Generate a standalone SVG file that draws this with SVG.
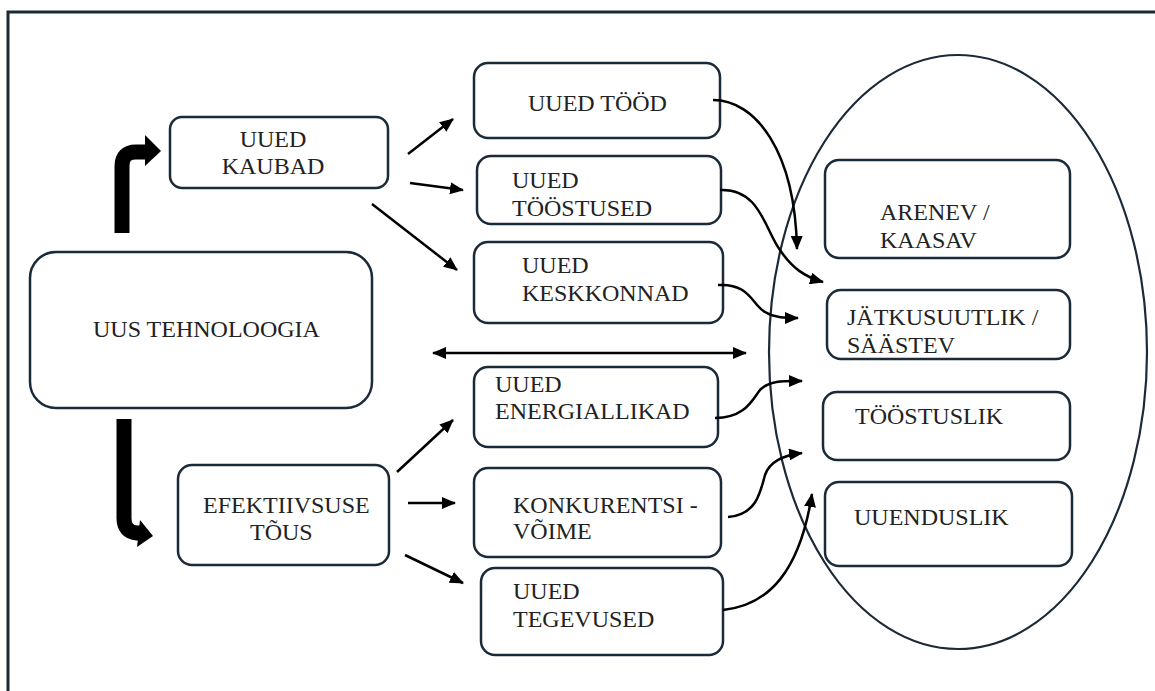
<svg xmlns="http://www.w3.org/2000/svg" width="1155" height="691" viewBox="0 0 1155 691">
<defs>
<style>
.box{fill:#fff;stroke:#1b2a38;stroke-width:2.5}
.t{font-family:"Liberation Serif","Times New Roman",serif;font-size:24px;fill:#222}
.c{stroke:#000;stroke-width:2.5;fill:none}
.thick{stroke:#000;stroke-width:15;fill:none}
</style>
<marker id="ah" viewBox="0 0 14 12" refX="13" refY="6" markerWidth="14" markerHeight="12" markerUnits="userSpaceOnUse" orient="auto">
<path d="M0 0 L14 6 L0 12 Z" fill="#000"/>
</marker>
<marker id="ahs" viewBox="0 0 14 12" refX="1" refY="6" markerWidth="14" markerHeight="12" markerUnits="userSpaceOnUse" orient="auto">
<path d="M14 0 L0 6 L14 12 Z" fill="#000"/>
</marker>
</defs>
<rect width="1155" height="691" fill="#fff"/>
<rect x="8" y="12" width="1160" height="700" fill="none" stroke="#1b2a38" stroke-width="3"/>
<ellipse id="group-ellipse" cx="958" cy="352" rx="189" ry="297" fill="none" stroke="#1b2a38" stroke-width="2.2"/>

<g id="n-tehnoloogia"><rect class="box" x="30" y="252" width="342" height="156" rx="26"/><text class="t" x="93" y="337">UUS TEHNOLOOGIA</text></g>
<g id="n-kaubad"><rect class="box" x="170" y="117" width="218" height="71" rx="12"/><text class="t" text-anchor="middle" x="273" y="147">UUED</text><text class="t" text-anchor="middle" x="273" y="174">KAUBAD</text></g>
<g id="n-efektiivsus"><rect class="box" x="178" y="465" width="211" height="100" rx="14"/><text class="t" x="203" y="513">EFEKTIIVSUSE</text><text class="t" x="250" y="540">TÕUS</text></g>

<g id="n-tood"><rect class="box" x="474" y="63" width="246" height="75" rx="14"/><text class="t" x="528" y="111">UUED TÖÖD</text></g>
<g id="n-toostused"><rect class="box" x="477" y="156" width="244" height="68" rx="14"/><text class="t" x="512" y="188">UUED</text><text class="t" x="512" y="216">TÖÖSTUSED</text></g>
<g id="n-keskkonnad"><rect class="box" x="474" y="242" width="249" height="81" rx="14"/><text class="t" x="522" y="273">UUED</text><text class="t" x="522" y="301">KESKKONNAD</text></g>
<g id="n-energiallikad"><rect class="box" x="474" y="367" width="244" height="80" rx="14"/><text class="t" x="495" y="392">UUED</text><text class="t" x="495" y="419">ENERGIALLIKAD</text></g>
<g id="n-konkurentsi"><rect class="box" x="474" y="468" width="247" height="89" rx="14"/><text class="t" x="513" y="513">KONKURENTSI -</text><text class="t" x="513" y="539">VÕIME</text></g>
<g id="n-tegevused"><rect class="box" x="481" y="568" width="242" height="87" rx="14"/><text class="t" x="513" y="599">UUED</text><text class="t" x="513" y="627">TEGEVUSED</text></g>

<g id="n-arenev"><rect class="box" x="825" y="160" width="245" height="98" rx="14"/><text class="t" x="880" y="220">ARENEV /</text><text class="t" x="880" y="248">KAASAV</text></g>
<g id="n-jatkusuutlik"><rect class="box" x="827" y="290" width="243" height="69" rx="14"/><text class="t" x="847" y="325">JÄTKUSUUTLIK /</text><text class="t" x="847" y="353">SÄÄSTEV</text></g>
<g id="n-toostuslik"><rect class="box" x="823" y="392" width="247" height="68" rx="14"/><text class="t" x="855" y="424">TÖÖSTUSLIK</text></g>
<g id="n-uuenduslik"><rect class="box" x="825" y="482" width="247" height="84" rx="14"/><text class="t" x="854" y="525">UUENDUSLIK</text></g>

<g id="connectors">
<path class="thick" d="M122 233 L122 166 Q122 152 136 152 L147 152"/>
<path d="M145 135 L161 151 L145 166 Z" fill="#000"/>
<path class="thick" d="M124 419 L124 518 Q124 532 137 533 L141 533"/>
<path d="M140 520 L153 536 L137 547 Z" fill="#000"/>

<path class="c" marker-end="url(#ah)" d="M408 154 L453 119"/>
<path class="c" marker-end="url(#ah)" d="M410 183 L463 190"/>
<path class="c" marker-end="url(#ah)" d="M372 204 L457 270"/>
<path class="c" marker-end="url(#ah)" d="M397 472 L453 420"/>
<path class="c" marker-end="url(#ah)" d="M408 503 L455 503"/>
<path class="c" marker-end="url(#ah)" d="M405 555 L463 583"/>
<path class="c" marker-start="url(#ahs)" marker-end="url(#ah)" d="M433 353 L746 353"/>

<path class="c" marker-end="url(#ah)" d="M713 100 C755 100 795 150 797 249"/>
<path class="c" marker-end="url(#ah)" d="M720 190 C760 188 765 230 780 250 C792 268 805 277 823 282"/>
<path class="c" marker-end="url(#ah)" d="M718 285 C750 283 752 305 765 312 C775 318 785 318 798 318"/>
<path class="c" marker-end="url(#ah)" d="M715 418 C745 418 752 400 760 390 C770 380 785 381 802 381"/>
<path class="c" marker-end="url(#ah)" d="M728 517 C755 515 760 495 765 475 C770 460 785 455 802 453"/>
<path class="c" marker-end="url(#ah)" d="M723 610 C770 605 800 570 812 494"/>
</g>
</svg>
